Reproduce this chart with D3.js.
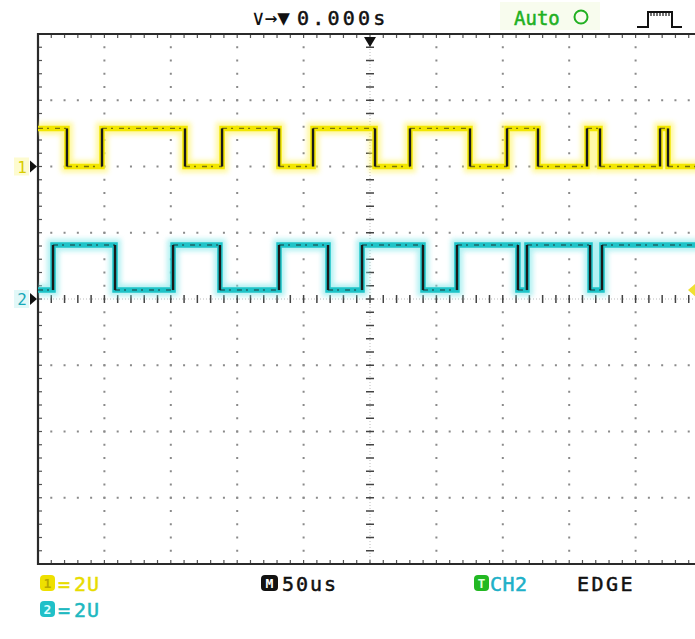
<!DOCTYPE html>
<html>
<head>
<meta charset="utf-8">
<script src="https://cdn.jsdelivr.net/npm/d3@7/dist/d3.min.js"></script>
<style>
  html, body { margin: 0; padding: 0; background: #fff; }
  svg { display: block; }
  text { font-family: "DejaVu Sans Mono", "Liberation Mono", monospace; }
</style>
</head>
<body>
<svg id="scope" width="695" height="639"></svg>
<script>
// ---------------- DATA ----------------
const timePerDivUs = 50;            // "M 50us"
const timeDomainUs = [-250, 250];   // 10 divisions, trigger at 0
const divDomain = [-4, 4];          // 8 vertical divisions

const ch1VoltsPerDiv = 2;
const ch1OffsetDiv = 2;
const ch1HighV = 1.15;
const ch1LowV = 0.0;
const ch1StartLevel = "high";
const ch1EdgesUs = [-228.2, -201.8, -139.3, -111.4, -68.5, -42.9, 3.8, 30.1, 75.3, 103.2, 126.5, 163.4, 173.2, 218.4, 224.4];

const ch2VoltsPerDiv = 2;
const ch2OffsetDiv = 0;
const ch2HighV = 1.63;
const ch2LowV = 0.27;
const ch2StartLevel = "low";
const ch2EdgesUs = [-238.7, -192.0, -148.3, -113.0, -68.5, -31.6, -6.0, 39.9, 65.5, 111.4, 118.2, 165.7, 174.7];

const topLabels = ["∨→▼", "0.000s", "Auto"];
const bottomLabels = ["2U", "50us", "CH2", "EDGE"];

// ---------------- SCALES ----------------
const svg = d3.select("#scope");
const scrL = 38, scrT = 34, scrB = 564, scrR = 702;
const x = d3.scaleLinear().domain(timeDomainUs).range([scrL, scrR]);
const y = d3.scaleLinear().domain(divDomain).range([scrB, scrT]);

const yellow = "#f2e600", yellowGlow = "#fff35a";
const cyan = "#1ec3c8", cyanGlow = "#7fe8ea";

const defs = svg.append("defs");
defs.append("clipPath").attr("id", "screen")
  .append("rect").attr("x", scrL).attr("y", scrT).attr("width", scrR - scrL).attr("height", scrB - scrT);
defs.append("filter").attr("id", "blur").attr("x", "-5%").attr("y", "-50%").attr("width", "110%").attr("height", "200%")
  .append("feGaussianBlur").attr("stdDeviation", 2.5);

// ---------------- GRID ----------------
const grid = svg.append("g");
const minorX = d3.range(timeDomainUs[0], timeDomainUs[1] + 0.001, timePerDivUs / 5);
const minorY = d3.range(divDomain[0], divDomain[1] + 0.001, 0.2);
const majorX = d3.range(timeDomainUs[0] + timePerDivUs, timeDomainUs[1], timePerDivUs);
const majorY = d3.range(divDomain[0] + 1, divDomain[1], 1);

majorY.filter(d => d !== 0).forEach(d => {
  grid.selectAll(null).data(minorX).join("rect")
    .attr("x", t => x(t) - 1).attr("y", y(d) - 1).attr("width", 2).attr("height", 2)
    .attr("fill", "#8a8a8a");
});
majorX.filter(d => d !== 0).forEach(d => {
  grid.selectAll(null).data(minorY).join("rect")
    .attr("x", x(d) - 1).attr("y", v => y(v) - 1).attr("width", 2).attr("height", 2)
    .attr("fill", "#8a8a8a");
});
grid.append("line").attr("x1", scrL).attr("x2", scrR).attr("y1", y(0)).attr("y2", y(0))
  .attr("stroke", "#bbb").attr("stroke-dasharray", "1 2");
grid.append("line").attr("x1", x(0)).attr("x2", x(0)).attr("y1", scrT).attr("y2", scrB)
  .attr("stroke", "#bbb").attr("stroke-dasharray", "1 2");
grid.selectAll(null).data(minorX).join("line")
  .attr("x1", t => x(t)).attr("x2", t => x(t)).attr("y1", y(0) - 4).attr("y2", y(0) + 4)
  .attr("stroke", "#444").attr("stroke-width", 1.5);
grid.selectAll(null).data(minorY).join("line")
  .attr("y1", v => y(v)).attr("y2", v => y(v)).attr("x1", x(0) - 4).attr("x2", x(0) + 4)
  .attr("stroke", "#444").attr("stroke-width", 1.5);

grid.selectAll(null).data(minorX).join("line")
  .attr("x1", t => x(t)).attr("x2", t => x(t)).attr("y1", scrT).attr("y2", scrT + 4)
  .attr("stroke", "#555").attr("stroke-width", 1.2);
grid.selectAll(null).data(minorX).join("line")
  .attr("x1", t => x(t)).attr("x2", t => x(t)).attr("y1", scrB).attr("y2", scrB - 4)
  .attr("stroke", "#555").attr("stroke-width", 1.2);
grid.selectAll(null).data(minorY).join("line")
  .attr("y1", v => y(v)).attr("y2", v => y(v)).attr("x1", scrL).attr("x2", scrL + 4)
  .attr("stroke", "#555").attr("stroke-width", 1.2);

grid.append("path")
  .attr("d", `M${scrR},${scrT}H${scrL}V${scrB}H${scrR}`)
  .attr("fill", "none").attr("stroke", "#2a2a2a").attr("stroke-width", 2.2);

// ---------------- TRACES ----------------
function stepPoints(edges, startLevel, hi, lo, vpd, off) {
  let level = startLevel === "high";
  const vy = v => y(off + v / vpd);
  const pts = [[x(timeDomainUs[0]), vy(level ? hi : lo)]];
  edges.forEach(t => {
    pts.push([x(t), vy(level ? hi : lo)]);
    level = !level;
    pts.push([x(t), vy(level ? hi : lo)]);
  });
  pts.push([x(timeDomainUs[1]), vy(level ? hi : lo)]);
  return pts;
}
const line = d3.line();
function drawTrace(pts, col, glow) {
  const g = svg.append("g").attr("clip-path", "url(#screen)");
  g.append("path").attr("d", line(pts)).attr("fill", "none")
    .attr("stroke", glow).attr("stroke-width", 12).attr("opacity", 0.6)
    .attr("filter", "url(#blur)");
  g.append("path").attr("d", line(pts)).attr("fill", "none")
    .attr("stroke", col).attr("stroke-width", 5.5).attr("stroke-linejoin", "miter");
  for (let i = 0; i < pts.length - 1; i++) {
    const a = pts[i], b = pts[i + 1];
    const vertical = a[0] === b[0];
    g.append("line").attr("x1", a[0]).attr("y1", a[1]).attr("x2", b[0]).attr("y2", b[1])
      .attr("stroke", "#1a1a1a")
      .attr("stroke-width", vertical ? 2.4 : 1.4)
      .attr("stroke-dasharray", vertical ? null : "5 4 2 6")
      .attr("opacity", vertical ? 1 : 0.55);
  }
}
drawTrace(stepPoints(ch1EdgesUs, ch1StartLevel, ch1HighV, ch1LowV, ch1VoltsPerDiv, ch1OffsetDiv), yellow, yellowGlow);
drawTrace(stepPoints(ch2EdgesUs, ch2StartLevel, ch2HighV, ch2LowV, ch2VoltsPerDiv, ch2OffsetDiv), cyan, cyanGlow);

// ---------------- MARKERS ----------------
function chMarker(off, label, col, bg) {
  const yy = y(off);
  svg.append("rect").attr("x", 14).attr("y", yy - 9).attr("width", 15).attr("height", 18).attr("fill", bg);
  svg.append("path").attr("d", `M30,${yy - 6}L37,${yy}L30,${yy + 6}Z`).attr("fill", "#111");
  svg.append("text").attr("x", 22).attr("y", yy + 6).attr("text-anchor", "middle")
    .attr("font-size", 16).attr("fill", col).text(label);
}
chMarker(ch1OffsetDiv, "1", "#d8cc00", "#fdfbd0");
chMarker(ch2OffsetDiv, "2", "#18a8b8", "#e2f8f8");
svg.append("path").attr("d", `M${x(0) - 6},${scrT + 3}H${x(0) + 6}L${x(0)},${scrT + 13}Z`).attr("fill", "#111");
const trigY = y(ch2OffsetDiv + ch2LowV / ch2VoltsPerDiv);
svg.append("path").attr("d", `M688,${trigY}L696,${trigY - 7}V${trigY + 7}Z`).attr("fill", "#f0e030");

// ---------------- TOP BAR ----------------
const txtStyle = sel => sel.attr("stroke-width", 0.5);
svg.append("text").attr("x", 252).attr("y", 25).attr("font-size", 21).attr("fill", "#111").text(topLabels[0]);
svg.append("text").attr("x", 297).attr("y", 25).attr("font-size", 20).attr("letter-spacing", 3.2)
  .attr("fill", "#111").attr("stroke", "#111").call(txtStyle).text(topLabels[1]);
svg.append("rect").attr("x", 500).attr("y", 2).attr("width", 100).attr("height", 28).attr("fill", "#f8fcee");
svg.append("text").attr("x", 514).attr("y", 25).attr("font-size", 19).attr("letter-spacing", 0)
  .attr("fill", "#21b021").attr("stroke", "#21b021").call(txtStyle).text(topLabels[2]);
svg.append("circle").attr("cx", 581).attr("cy", 17).attr("r", 6.5).attr("fill", "none").attr("stroke", "#21b021").attr("stroke-width", 2);
svg.append("path").attr("d", "M637,27H648V12H672V27H682").attr("fill", "none").attr("stroke", "#111").attr("stroke-width", 2);
svg.selectAll(null).data(d3.range(651, 670, 3)).join("line")
  .attr("x1", d => d).attr("x2", d => d).attr("y1", 12).attr("y2", 16).attr("stroke", "#111").attr("stroke-width", 1.2);

// ---------------- BOTTOM BAR ----------------
function badge(bx, by, w, fill, txt, txtCol) {
  svg.append("rect").attr("x", bx).attr("y", by).attr("width", w).attr("height", 16).attr("rx", 4).attr("fill", fill);
  svg.append("text").attr("x", bx + w / 2).attr("y", by + 13).attr("text-anchor", "middle")
    .attr("font-size", 13).attr("font-weight", "bold").attr("fill", txtCol).text(txt);
}
function label(lx, ly, txt, col, ls) {
  svg.append("text").attr("x", lx).attr("y", ly).attr("font-size", 20).attr("letter-spacing", ls)
    .attr("fill", col).attr("stroke", col).call(txtStyle).text(txt);
}
badge(40, 575, 15, "#eee000", "1", "#b8a800");
label(58, 591, "=", "#e8dc00", 0);
label(74, 591, bottomLabels[0], "#e8dc00", 1);
badge(40, 601, 15, "#20c0c8", "2", "#dff");
label(58, 617, "=", "#20b8c0", 0);
label(74, 617, bottomLabels[0], "#20b8c0", 1);
badge(261, 575, 17, "#111", "M", "#fff");
label(282, 591, bottomLabels[1], "#111", 2);
badge(474, 575, 15, "#22b822", "T", "#dfd");
label(490, 591, bottomLabels[2], "#20b0c8", 0.5);
label(577, 591, bottomLabels[3], "#111", 2.5);
</script>
</body>
</html>
